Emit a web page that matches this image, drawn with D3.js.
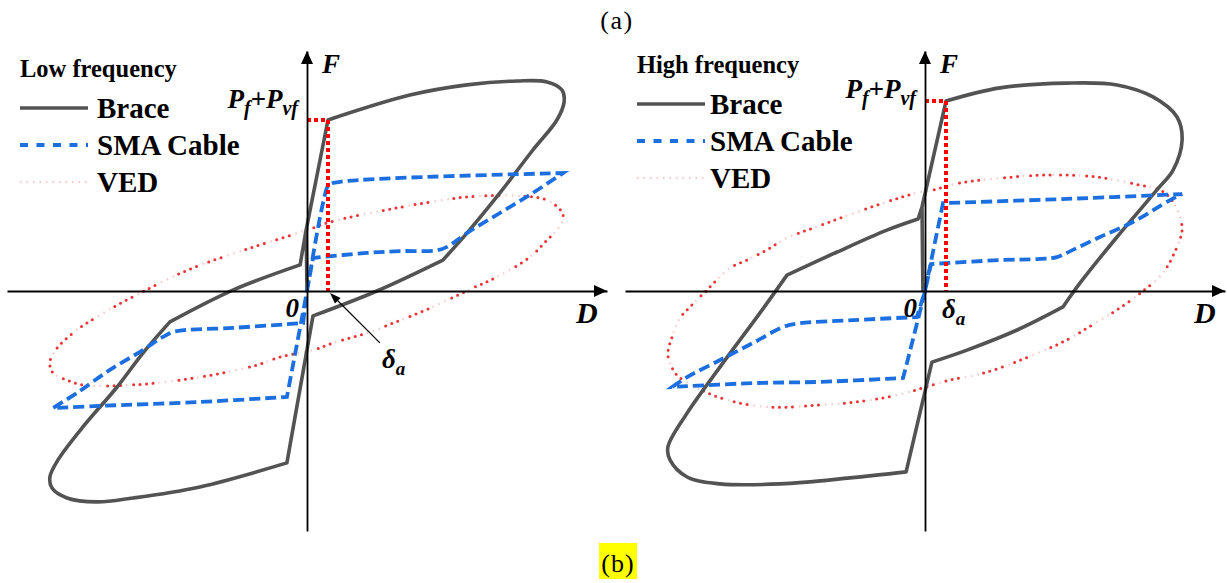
<!DOCTYPE html>
<html>
<head>
<meta charset="utf-8">
<script src="https://cdn.jsdelivr.net/npm/d3@7"></script>
<style>
  body { margin: 0; background: #fff; }
  svg { display: block; }
  text { font-family: "Liberation Serif", "Times New Roman", serif; fill: #000; }
</style>
</head>
<body>
<svg id="fig" width="1227" height="583"></svg>
<script>
// ---- Hysteresis loops (D = displacement, F = force, arbitrary units) ----
// Each loop is a list of runs; a run is drawn smoothly, corners sit between runs.

// Low frequency
const braceLow = [
  [[-0.3, 20.3], [7, 57]],
  [[7, 57], [34.3, 65.3], [53.3, 68.7], [70, 70], [80, 69.7], [85, 67], [85.7, 63], [83.3, 57], [75.3, 47], [64.3, 32.7], [53.3, 19.3], [45.3, 10.3]],
  [[45.3, 10.3], [23.3, 0], [2, -8.3]],
  [[2, -8.3], [-6.7, -57.3]],
  [[-6.7, -57.3], [-35.7, -65.3], [-58, -69], [-70, -70.3], [-80, -69], [-85, -65.7], [-85.7, -62], [-83, -56.3], [-74.7, -45.3], [-63.3, -32], [-54.7, -20.7], [-45.7, -10.3]],
  [[-45.7, -10.3], [-24.7, 0.3], [-2.3, 8.7]],
  [[-2.3, 8.7], [-0.3, 20.3]],
  [[-0.3, 20.3], [0, 0]]
];
const smaLow = [
  [[0, 0], [5.5, 30], [7.3, 35.3], [11, 36.4], [85.3, 39.3]],
  [[85.3, 39.3], [75.3, 32.7], [64.3, 26], [53.3, 19.3], [46.7, 14.7], [43, 13.5], [31, 13.3], [20, 12.7], [2, 11]],
  [[2, 11], [0, 0], [-6.7, -35.3]],
  [[-6.7, -35.3], [-35.7, -37], [-69, -38.3], [-84.7, -39]],
  [[-84.7, -39], [-76.7, -34], [-65.7, -26.3], [-54.7, -19.7], [-48, -15.3], [-44, -13.5], [-24.7, -12.3], [-1.3, -10.7]],
  [[-1.3, -10.7], [0, 0]]
];
const vedLow = [
  [-85.7, -23.7], [-83.3, -19], [-76.7, -13], [-69, -8], [-55.7, -0.7], [-38, 7.7], [-19, 14.3], [0, 20.3],
  [7.7, 23], [30, 27.7], [50, 31], [58.3, 31.7], [71, 31.7], [80, 30.3], [85, 26.3], [85.3, 23.7],
  [83.3, 20.3], [80, 17], [74.3, 11.3], [63.3, 4.7], [55.3, 1], [41, -5.7], [28.7, -10.7], [21, -13.7],
  [8.7, -17.3], [2, -19.7], [-9, -22], [-16.7, -24.7], [-35.7, -28.7], [-58, -31.3], [-74.7, -31.3],
  [-80, -29.7], [-84.7, -27.3]
];
const yieldLow = { delta: 7, force: 57 };

// High frequency
const braceHigh = [
  [[-1, 28], [7, 63.3]],
  [[7, 63.3], [25, 67.7], [47.3, 69.3], [64, 68.7], [76, 64.7], [84, 58], [85.7, 50.3], [82.7, 40.3], [77.3, 33.7], [64, 18], [51.7, 2.7], [46, -5.3]],
  [[46, -5.3], [30.7, -13], [14, -19.7], [2.3, -23.7]],
  [[2.3, -23.7], [-6.3, -60.3]],
  [[-6.3, -60.3], [-25, -62.3], [-48.3, -64.3], [-68.3, -64.3], [-79.3, -62], [-85, -56.3], [-85.7, -52], [-79.3, -40.7], [-68.3, -25.3], [-55, -7.3], [-46, 5.3]],
  [[-46, 5.3], [-29.3, 13], [-12.7, 20.3], [-2.3, 24]],
  [[-2.3, 24], [-1, 28]],
  [[-1, 28], [-0.7, 0]]
];
const smaHigh = [
  [[0, 0], [6, 29.3]],
  [[6, 29.3], [47.3, 30.7], [85.7, 32.3]],
  [[85.7, 32.3], [81.7, 30.3], [69.3, 23], [58.3, 18], [49.3, 13.7], [44, 11.3], [38.3, 10.7], [25, 10.3], [2, 9]],
  [[2, 9], [0, 0], [-7.3, -29]],
  [[-7.3, -29], [-35, -30.3], [-57.3, -30.7], [-84.3, -32]],
  [[-84.3, -32], [-79.3, -28.7], [-68.3, -23], [-57.3, -17.3], [-47.3, -12], [-42, -10.8], [-24, -9.7], [-2.7, -8.7]],
  [[-2.7, -8.7], [0, 0]]
];
const vedHigh = [
  [57.3, 38], [41.7, 38.7], [26, 37.7], [11.7, 36], [2.7, 33.7], [-2.7, 32.7], [-14, 29.3], [-37.3, 21],
  [-46, 17.7], [-52.7, 13.7], [-59.3, 10.3], [-65, 7.7], [-72.7, 0.3], [-78.3, -5.3], [-81.7, -9],
  [-84.3, -15.3], [-85.7, -20.7], [-85, -24], [-82.7, -28], [-76, -32.3], [-66, -36.3], [-51.7, -38.7],
  [-35, -38], [-20.7, -36.7], [-9.3, -34.7], [8.3, -29.7], [18.3, -27.7], [32.7, -22.7], [47.3, -16.3],
  [58.3, -9.7], [64, -6.3], [72.7, 0], [79.3, 6], [84, 14.7], [85.7, 20.3], [85, 24.7], [82.3, 30.3],
  [78.3, 33.7], [71.7, 35.3]
];
const yieldHigh = { delta: 7, force: 63.3 };

const seriesNames = ["Brace", "SMA Cable", "VED"];
const panelTitles = ["Low frequency", "High frequency"];
const figureLabels = ["(a)", "(b)"];

// ---- styles ----
const COL = { brace: "#535353", sma: "#1c6fe0", vedPink: "#f6c8c8", vedRed: "#ee3434", yieldRed: "#ff0000" };

const svg = d3.select("#fig");

function runsPath(runs, x, y) {
  const gen = d3.line().x(d => x(d[0])).y(d => y(d[1])).curve(d3.curveCatmullRom.alpha(0.5));
  return runs.map((r, i) => { const s = gen(r); return i ? s.replace(/^M/, "L") : s; }).join("");
}

function drawPanel(cfg) {
  const x = d3.scaleLinear().domain([-100, 100]).range(cfg.xRange);
  const y = d3.scaleLinear().domain([-80, 80]).range([531, 51]);
  const g = svg.append("g");

  // VED loop: faint dotted trace with brighter dots
  const closed = d3.line().x(d => x(d[0])).y(d => y(d[1])).curve(d3.curveCatmullRomClosed.alpha(0.5));
  g.append("path").attr("d", closed(cfg.ved)).attr("fill", "none")
    .attr("stroke", COL.vedPink).attr("stroke-width", 2.2).attr("stroke-dasharray", "1.5 5");
  g.append("path").attr("d", closed(cfg.ved)).attr("fill", "none")
    .attr("stroke", COL.vedRed).attr("stroke-width", 3).attr("stroke-linecap", "round")
    .attr("stroke-dasharray", "0 6.5 0 6.5 0 6.5 0 13 0 6.5 0 6.5 0 26");

  // Brace loop
  g.append("path").attr("d", runsPath(cfg.brace, x, y)).attr("fill", "none")
    .attr("stroke", COL.brace).attr("stroke-width", 3.6).attr("stroke-linejoin", "round");

  // SMA cable loop
  g.append("path").attr("d", runsPath(cfg.sma, x, y)).attr("fill", "none")
    .attr("stroke", COL.sma).attr("stroke-width", 3.8).attr("stroke-dasharray", "11 5");

  // Yield point guides
  const yl = cfg.yld;
  g.append("path")
    .attr("d", `M${x(0)},${y(yl.force)}H${x(yl.delta)}V${y(0)}`)
    .attr("fill", "none").attr("stroke", COL.yieldRed).attr("stroke-width", 4).attr("stroke-dasharray", "4 3");

  // Axes (no ticks) with arrowheads
  g.append("g").attr("transform", `translate(0,${y(0)})`)
    .call(d3.axisBottom(x).tickValues([]).tickSizeOuter(0))
    .call(a => a.select(".domain").attr("stroke", "#000").attr("stroke-width", 1.8));
  g.append("g").attr("transform", `translate(${x(0)},0)`)
    .call(d3.axisLeft(y).tickValues([]).tickSizeOuter(0))
    .call(a => a.select(".domain").attr("stroke", "#000").attr("stroke-width", 1.8));
  const xe = x(100), ye = y(80);
  g.append("path").attr("d", `M${xe},${y(0)}L${xe - 13},${y(0) - 6}L${xe - 13},${y(0) + 6}Z`).attr("fill", "#000");
  g.append("path").attr("d", `M${x(0)},${ye}L${x(0) - 6},${ye + 13}L${x(0) + 6},${ye + 13}Z`).attr("fill", "#000");

  // Axis labels
  const bi = s => s.attr("font-weight", "bold").attr("font-style", "italic");
  g.append("text").attr("x", x(0) + 15).attr("y", ye + 22).attr("font-size", 27).call(bi).text("F");
  g.append("text").attr("x", xe - 31).attr("y", y(0) + 32).attr("font-size", 30).call(bi).text("D");
  g.append("text").attr("x", x(0) - 8).attr("y", y(0) + 26).attr("text-anchor", "end").attr("font-size", 27).call(bi).text("0");

  // P_f + P_vf
  const pl = g.append("text").attr("x", x(0) - 9).attr("y", y(yl.force) + cfg.pDy)
    .attr("text-anchor", "end").attr("font-size", 27).call(bi);
  pl.append("tspan").text("P");
  pl.append("tspan").attr("font-size", 20).attr("dy", 7).text("f");
  pl.append("tspan").attr("dy", -7).text("+P");
  pl.append("tspan").attr("font-size", 20).attr("dy", 7).text("vf");

  // delta_a
  const dl = g.append("text").attr("x", cfg.dPos[0]).attr("y", cfg.dPos[1]).attr("font-size", 27).call(bi);
  dl.append("tspan").text("δ");
  dl.append("tspan").attr("font-size", 19).attr("dy", 7).text("a");
  if (cfg.dArrow) {
    const t = [x(yl.delta) + 2, y(0) + 2];
    const s = [x(cfg.dArrow[0]), y(cfg.dArrow[1])];
    const ang = Math.atan2(t[1] - s[1], t[0] - s[0]);
    const L = 11, W = 4;
    const b = [t[0] - L * Math.cos(ang), t[1] - L * Math.sin(ang)];
    g.append("line").attr("x1", s[0]).attr("y1", s[1]).attr("x2", b[0]).attr("y2", b[1])
      .attr("stroke", "#000").attr("stroke-width", 1.2);
    g.append("path").attr("fill", "#000").attr("d",
      `M${t[0]},${t[1]}L${b[0] + W * Math.sin(ang)},${b[1] - W * Math.cos(ang)}L${b[0] - W * Math.sin(ang)},${b[1] + W * Math.cos(ang)}Z`);
  }

  // Legend
  const lx = cfg.legend[0], ly = cfg.legend[1];
  g.append("text").attr("x", lx).attr("y", ly).attr("font-size", 24.5).attr("font-weight", "bold").text(cfg.title);
  const rows = [
    { name: seriesNames[0], stroke: COL.brace, w: 3.6, dash: null },
    { name: seriesNames[1], stroke: COL.sma, w: 3.8, dash: "8 8.5" },
    { name: seriesNames[2], stroke: COL.vedPink, w: 2.2, dash: "1.5 5" }
  ];
  rows.forEach((r, i) => {
    const ry = ly + 31 + i * 37;
    g.append("line").attr("x1", lx).attr("x2", lx + 68).attr("y1", ry).attr("y2", ry)
      .attr("stroke", r.stroke).attr("stroke-width", r.w).attr("stroke-dasharray", r.dash);
    g.append("text").attr("x", lx + cfg.legendTextDx).attr("y", ry + 10).attr("font-size", 29)
      .attr("font-weight", "bold").text(r.name);
  });
}

drawPanel({ xRange: [7, 607], brace: braceLow, sma: smaLow, ved: vedLow, yld: yieldLow,
  title: panelTitles[0], legend: [20, 77], legendTextDx: 77, pDy: -12, dPos: [382, 368], dArrow: [24.3, -17.3] });
drawPanel({ xRange: [625, 1225], brace: braceHigh, sma: smaHigh, ved: vedHigh, yld: yieldHigh,
  title: panelTitles[1], legend: [637, 73], legendTextDx: 73, pDy: -3, dPos: [942, 318], dArrow: null });

// Figure labels
svg.append("text").attr("x", 617).attr("y", 29).attr("text-anchor", "middle").attr("font-size", 26)
  .attr("letter-spacing", 1.5).text(figureLabels[0]);
svg.append("rect").attr("x", 599).attr("y", 543).attr("width", 38).attr("height", 36).attr("fill", "#ffff00");
svg.append("text").attr("x", 618).attr("y", 572).attr("text-anchor", "middle").attr("font-size", 26)
  .attr("letter-spacing", 1).text(figureLabels[1]);
</script>
</body>
</html>
